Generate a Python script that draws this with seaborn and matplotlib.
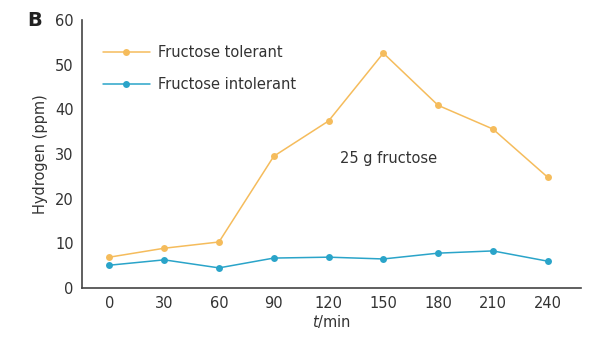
import matplotlib
matplotlib.use("Agg")
import matplotlib.pyplot as plt
import seaborn as sns
import pandas as pd

times = [0, 30, 60, 90, 120, 150, 180, 210, 240]
tolerant = [6.9, 8.9, 10.3, 29.5, 37.4, 52.6, 40.9, 35.6, 24.8]
intolerant = [5.1, 6.3, 4.5, 6.7, 6.9, 6.5, 7.8, 8.3, 6.0]
series_names = ["Fructose tolerant", "Fructose intolerant"]
colors = ["#F5BC5C", "#2AA4C9"]
yticks = [0, 10, 20, 30, 40, 50, 60]

sns.set_theme(style="white")
plt.rcParams['font.family'] = ['DejaVu Sans']

df = pd.DataFrame({
    "t": times * 2,
    "H2": tolerant + intolerant,
    "group": [series_names[0]] * len(times) + [series_names[1]] * len(times),
})

fs = 10.5
fig = plt.figure(figsize=(5.9, 3.4), dpi=100)
ax = fig.add_axes([0.139, 0.153, 0.845, 0.788])
sns.lineplot(data=df, x="t", y="H2", hue="group", palette=colors,
             marker="o", markersize=5, markeredgewidth=0, linewidth=1.1,
             ax=ax)

ax.set_xlim(-15, 258)
ax.set_ylim(0, 60)
ax.set_xticks(times)
ax.set_yticks(yticks)
ax.tick_params(axis="both", labelsize=fs, colors="#333333", length=0, pad=6)
for s in ["top", "right"]:
    ax.spines[s].set_visible(False)
for s in ["left", "bottom"]:
    ax.spines[s].set_color("#444444")
    ax.spines[s].set_linewidth(1.2)
ax.set_xlabel("$t$/min", fontsize=fs, color="#333333", labelpad=1)
ax.set_ylabel("Hydrogen (ppm)", fontsize=fs, color="#333333", labelpad=5)

leg = ax.legend(loc="upper left", bbox_to_anchor=(0.016, 0.956), frameon=False,
                fontsize=fs, handlelength=3.2, handletextpad=0.55,
                labelspacing=1.2, title=None)
for t in leg.get_texts():
    t.set_color("#333333")

ax.text(153, 29.0, "25 g fructose", fontsize=fs, color="#333333",
        ha="center", va="center")
fig.text(0.047, 0.94, "B", fontsize=14, fontweight="bold", color="#222222",
         ha="left", va="center")

fig.savefig("out.png", dpi=100)
